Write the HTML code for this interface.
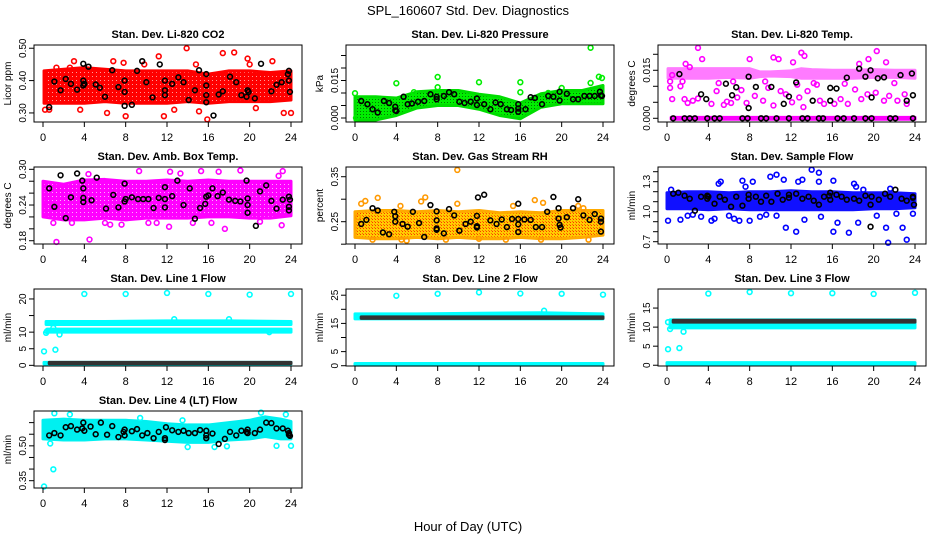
<!DOCTYPE html>
<html><head><meta charset="utf-8"><title>SPL_160607 Std. Dev. Diagnostics</title>
<style>
html,body{margin:0;padding:0;background:#fff;}
svg{display:block;font-family:"Liberation Sans",Arial,sans-serif;}
</style></head>
<body>
<svg id="chart" width="936" height="540" viewBox="0 0 936 540" xmlns="http://www.w3.org/2000/svg">
<defs>
<pattern id="dotsG" width="3" height="3" patternUnits="userSpaceOnUse"><rect width="3" height="3" fill="#00ee00"/><rect width="1" height="1" fill="#007700"/></pattern>
<pattern id="dotsRH" width="3" height="3" patternUnits="userSpaceOnUse"><rect width="3" height="3" fill="#ffcc00"/><rect width="1" height="1" fill="#ff3300"/><rect x="2" y="2" width="1" height="1" fill="#ff6600"/></pattern>
<pattern id="dotsM" width="4" height="4" patternUnits="userSpaceOnUse"><rect width="4" height="4" fill="#ff00ff"/><rect width="1" height="1" fill="#ffaaff"/></pattern>
<pattern id="dotsR" width="4" height="4" patternUnits="userSpaceOnUse"><rect width="4" height="4" fill="#ff0000"/><rect width="1" height="1" fill="#ff9999"/></pattern>
<pattern id="dotsK" width="4" height="4" patternUnits="userSpaceOnUse"><rect width="4" height="4" fill="#111"/><rect x="1" y="1" width="2" height="1" fill="#00cccc"/></pattern>
</defs>
<rect x="0" y="0" width="936" height="540" fill="#fff"/>
<text x="468" y="15" text-anchor="middle" font-size="13">SPL_160607  Std. Dev. Diagnostics</text>
<text x="468" y="531" text-anchor="middle" font-size="13">Hour of Day (UTC)</text>
<g id="panels"></g>
</svg>
<script>
// ---- data arrays (hour of day, std dev values) ----
const xTicks = [0,4,8,12,16,20,24];

// CO2
const co2BandHours = [0.1,2,4,6,8,10,12,14,16,18,20,22,24];
const co2BandLo = [0.33,0.33,0.33,0.335,0.33,0.33,0.33,0.335,0.33,0.335,0.335,0.335,0.34];
const co2BandHi = [0.43,0.435,0.44,0.435,0.43,0.43,0.43,0.43,0.42,0.43,0.43,0.425,0.43];
const co2Outliers = [[3.0,0.46],[6.8,0.46],[7.8,0.455],[11.2,0.475],[13.9,0.50],[17.4,0.485],[18.5,0.487],[19.8,0.468],[22.2,0.46],[3.6,0.31],[6.2,0.30],[8.0,0.29],[11.7,0.29],[12.7,0.31],[15.9,0.28],[15.1,0.305],[20.6,0.315],[23.3,0.30],[24.0,0.30],[0.2,0.31],[0.6,0.31],[1.3,0.44],[2.6,0.44],[9.8,0.45],[14.8,0.45],[20.0,0.45]];
const co2Black = [[0.6,0.318],[1.1,0.397],[1.7,0.37],[2.2,0.405],[2.7,0.39],[3.3,0.372],[3.9,0.452],[3.9,0.40],[3.9,0.385],[4.0,0.39],[4.4,0.443],[5.1,0.388],[5.5,0.378],[6.0,0.35],[6.7,0.432],[7.3,0.38],[7.9,0.40],[7.9,0.365],[7.9,0.322],[8.6,0.325],[9.1,0.43],[9.6,0.46],[10.0,0.395],[10.6,0.348],[11.3,0.45],[11.8,0.40],[11.8,0.37],[11.8,0.355],[12.5,0.39],[13.1,0.41],[13.6,0.395],[14.1,0.34],[14.7,0.37],[15.1,0.432],[15.8,0.42],[15.8,0.385],[15.8,0.355],[15.8,0.333],[16.5,0.292],[17.0,0.357],[17.4,0.367],[18.1,0.412],[18.7,0.395],[19.2,0.355],[19.7,0.35],[19.8,0.37],[19.9,0.365],[20.5,0.345],[21.1,0.452],[22.1,0.367],[22.6,0.387],[23.1,0.395],[23.7,0.42],[23.8,0.43],[23.8,0.40],[23.9,0.365]];

// Pressure
const presBandHours = [0,2,4,6,8,10,12,14,16,18,20,22,24];
const presBandLo = [-0.0008,-0.0008,0.001,0.004,0.005,0.005,0.0035,0.001,-0.0003,0.0043,0.0057,0.0057,0.0057];
const presBandHi = [0.0085,0.0085,0.008,0.0105,0.011,0.011,0.0095,0.0085,0.006,0.0097,0.011,0.011,0.013];
const presOutliers = [[0,0.0099],[0.1,0.0],[4.0,0.0139],[8.0,0.0164],[8.0,0.0123],[12.0,0.0143],[16.0,0.0143],[16.0,0.0103],[18.7,0.010],[20.0,0.012],[22.8,0.0281],[22.8,0.014],[23.6,0.0165],[23.9,0.016],[5.7,0.0103]];
const presBlack = [[0.6,0.0068],[1.2,0.0055],[1.7,0.0035],[2.2,0.0022],[2.8,0.0068],[3.3,0.006],[3.9,0.003],[3.9,0.0045],[4.0,0.0028],[4.7,0.0085],[5.1,0.0055],[5.5,0.0058],[6.1,0.0065],[6.7,0.0068],[7.3,0.0095],[7.9,0.0085],[7.9,0.0075],[8.6,0.0088],[9.1,0.0103],[9.6,0.0095],[10.1,0.0065],[10.6,0.006],[11.2,0.0065],[11.8,0.0078],[11.8,0.0052],[12.5,0.0055],[13.1,0.0035],[13.6,0.0062],[14.1,0.0055],[14.7,0.0035],[15.1,0.0032],[15.8,0.0055],[15.8,0.0038],[15.8,0.0025],[16.5,0.0035],[17.0,0.0083],[17.4,0.008],[18.1,0.0055],[18.7,0.0088],[19.2,0.0085],[19.8,0.0105],[19.8,0.007],[20.5,0.0097],[21.1,0.0075],[21.6,0.0075],[22.2,0.0088],[22.7,0.0088],[23.2,0.0088],[23.7,0.0105],[23.8,0.009],[23.9,0.0088]];

// Li-820 Temp
const tempBandHours = [0.1,2,4,6,8,9,10,12,13,14,16,18,20,22,24];
const tempBandLo = [0.0125,0.0125,0.0125,0.0128,0.0125,0.013,0.0132,0.013,0.0125,0.0125,0.0125,0.0125,0.0128,0.0128,0.0125];
const tempBandHi = [0.0155,0.0155,0.0155,0.0155,0.0155,0.0145,0.0145,0.0148,0.0155,0.0152,0.015,0.015,0.0152,0.015,0.015];
const tempZeroHours = [0.4,24];
const tempZeroLo = [-0.0003,-0.0003];
const tempZeroHi = [0.0003,0.0003];
const tempOutliers = [[3.0,0.022],[3.4,0.0185],[1.8,0.017],[2.2,0.016],[8.0,0.0185],[10.3,0.019],[10.8,0.0185],[12.2,0.0175],[13.0,0.0205],[13.3,0.0195],[18.6,0.017],[19.5,0.0185],[20.3,0.021],[21.2,0.0175],[0.3,0.0115],[0.3,0.0095],[0.5,0.006],[1.3,0.010],[1.7,0.006],[2.0,0.0048],[2.5,0.0055],[3.0,0.0062],[4.3,0.0045],[4.8,0.0085],[5.5,0.0042],[5.8,0.0052],[6.2,0.0048],[6.8,0.0065],[7.2,0.0088],[7.7,0.0048],[8.5,0.007],[9.3,0.0055],[9.8,0.0095],[10.3,0.004],[11.0,0.0085],[11.5,0.0075],[12.1,0.005],[12.8,0.0065],[13.2,0.0035],[13.6,0.0085],[14.5,0.0105],[14.8,0.0055],[15.2,0.0045],[16.2,0.0045],[16.8,0.006],[17.5,0.0045],[18.2,0.009],[18.8,0.006],[19.4,0.0075],[20.2,0.008],[21.0,0.0055],[21.5,0.007],[22.3,0.0055],[23.0,0.0075],[23.2,0.0045],[12.6,0.0105],[6.4,0.0115],[9.5,0.0115],[0.5,0.0135],[1.5,0.0115],[5.0,0.011],[14.2,0.011],[17.2,0.0108],[22.0,0.011]];
const tempBlack = [[1.2,0.0138],[3.3,0.0075],[3.8,0.006],[5.7,0.0108],[6.3,0.0072],[6.7,0.0097],[7.9,0.0032],[7.9,0.013],[8.6,0.0098],[10.1,0.0098],[11.3,0.0045],[11.8,0.0068],[12.5,0.0112],[14.1,0.0055],[15.8,0.0055],[15.8,0.0095],[16.4,0.0093],[17.4,0.0127],[18.6,0.0155],[19.2,0.013],[19.7,0.015],[19.8,0.0065],[20.4,0.0125],[21.0,0.0128],[22.6,0.0135],[23.2,0.0055],[23.7,0.014],[23.8,0.0072],[0.6,0],[1.7,0],[2.2,0],[2.7,0],[3.9,0],[4.6,0],[5.1,0],[7.3,0],[7.8,0],[9.1,0],[9.6,0],[10.6,0],[11.8,0],[13.1,0],[13.6,0],[14.7,0],[15.1,0],[16.5,0],[17.1,0],[18.1,0],[19.2,0],[19.8,0],[21.6,0],[22.1,0],[23.8,0]];

// Amb box temp
const ambBandHours = [0,2,4,6,8,10,12,14,16,18,20,22,24];
const ambBandLo = [0.22,0.215,0.215,0.218,0.215,0.218,0.218,0.218,0.22,0.22,0.218,0.218,0.222];
const ambBandHi = [0.28,0.275,0.282,0.283,0.28,0.28,0.282,0.28,0.282,0.28,0.28,0.28,0.28];
const ambOutliers = [[1.3,0.178],[4.5,0.182],[7.6,0.207],[12.2,0.2035],[17.6,0.20],[23.1,0.206],[4.4,0.292],[9.3,0.297],[15.3,0.297],[17.0,0.296],[19.1,0.298],[23.2,0.297],[12.3,0.296],[13.3,0.293],[6.0,0.21],[6.5,0.207],[10.2,0.21],[11.0,0.21],[14.5,0.21],[16.3,0.21],[21.0,0.212],[0.2,0.245],[22.8,0.289],[1.0,0.21],[2.8,0.21]];
const ambBlack = [[0.6,0.268],[1.1,0.237],[1.7,0.29],[2.2,0.218],[2.7,0.253],[3.3,0.293],[3.8,0.281],[3.9,0.268],[3.9,0.252],[3.9,0.245],[4.7,0.248],[5.2,0.286],[6.1,0.234],[6.8,0.257],[7.3,0.236],[7.9,0.246],[7.9,0.276],[8.0,0.25],[8.6,0.253],[9.2,0.25],[9.7,0.25],[10.2,0.25],[10.7,0.235],[11.2,0.252],[11.8,0.27],[11.8,0.25],[11.8,0.236],[12.5,0.255],[13.0,0.281],[13.6,0.24],[14.2,0.268],[14.7,0.217],[15.2,0.235],[15.7,0.242],[15.8,0.254],[16.0,0.256],[16.4,0.268],[16.9,0.255],[17.4,0.261],[18.0,0.249],[18.6,0.247],[19.1,0.246],[19.7,0.281],[19.8,0.251],[19.8,0.24],[19.8,0.227],[20.6,0.205],[21.0,0.263],[21.6,0.273],[22.1,0.247],[22.6,0.234],[23.2,0.249],[23.8,0.237],[23.8,0.231],[23.9,0.249],[23.8,0.254]];

// Gas stream RH
const rhBandHours = [0,2,4,6,8,10,12,14,16,18,20,22,24];
const rhBandLo = [0.215,0.212,0.212,0.215,0.212,0.215,0.212,0.212,0.215,0.212,0.212,0.215,0.22];
const rhBandHi = [0.272,0.275,0.275,0.272,0.275,0.272,0.275,0.27,0.272,0.27,0.275,0.275,0.275];
const rhOutliers = [[9.9,0.365],[1.0,0.296],[2.2,0.303],[0.6,0.29],[6.4,0.295],[6.8,0.304],[17.4,0.298],[18.2,0.292],[22.1,0.28],[9.9,0.29],[21.6,0.285],[15.3,0.285],[4.4,0.285],[1.7,0.21],[4.5,0.21],[14.6,0.21],[18.0,0.21],[22.6,0.21],[0.3,0.26],[5.0,0.208],[8.8,0.21],[12.0,0.212]];
const rhBlack = [[0.6,0.245],[1.1,0.254],[1.7,0.28],[2.2,0.275],[2.7,0.226],[3.3,0.222],[3.8,0.272],[3.9,0.25],[3.9,0.262],[4.6,0.245],[5.1,0.239],[5.6,0.272],[6.2,0.247],[6.7,0.216],[7.3,0.287],[7.9,0.273],[7.9,0.253],[7.9,0.235],[7.9,0.232],[8.6,0.224],[9.1,0.278],[9.6,0.264],[10.1,0.23],[10.7,0.245],[11.2,0.25],[11.8,0.263],[11.8,0.24],[11.8,0.237],[11.9,0.304],[12.5,0.31],[13.1,0.253],[13.7,0.245],[14.2,0.255],[14.7,0.238],[15.2,0.256],[15.8,0.29],[15.8,0.256],[15.8,0.244],[15.8,0.227],[16.4,0.255],[17.0,0.254],[17.5,0.238],[18.1,0.238],[18.6,0.272],[19.2,0.305],[19.7,0.28],[19.7,0.257],[19.8,0.243],[19.9,0.237],[20.5,0.26],[21.1,0.28],[21.6,0.30],[22.1,0.264],[22.7,0.254],[23.2,0.267],[23.8,0.257],[23.8,0.25],[23.8,0.228]];

// Sample flow
const flowBandHours = [0,2,4,6,8,10,12,14,16,18,20,22,24];
const flowBandLo = [1.03,1.03,1.02,1.03,1.02,1.02,1.02,1.02,1.02,1.02,1.03,1.03,1.04];
const flowBandHi = [1.19,1.2,1.2,1.19,1.2,1.2,1.21,1.2,1.2,1.19,1.19,1.19,1.18];
const flowOutliers = [[0.1,0.91],[0.4,1.22],[1.3,0.92],[2.0,0.96],[2.5,0.97],[3.3,0.95],[4.3,0.91],[4.6,0.93],[5.0,1.28],[5.2,1.30],[6.0,0.96],[6.5,0.93],[7.3,1.31],[7.0,0.91],[7.6,1.25],[8.0,0.91],[8.3,1.30],[9.0,0.95],[9.6,0.97],[10.0,1.35],[10.6,1.37],[10.6,0.96],[11.3,1.32],[11.5,0.84],[12.5,0.80],[12.7,1.30],[13.1,1.32],[13.3,0.92],[14.0,1.42],[14.7,1.39],[14.7,1.30],[14.9,0.95],[16.1,1.31],[16.1,0.80],[16.5,0.89],[17.6,0.79],[18.1,1.28],[18.5,0.89],[19.0,1.22],[20.3,0.96],[21.2,0.84],[21.4,0.69],[21.6,1.23],[22.2,0.98],[22.8,0.84],[23.2,0.72],[23.8,0.98],[18.3,1.25]];
const flowBlack = [[0.6,1.18],[1.1,1.19],[1.7,1.16],[2.2,1.13],[2.7,1.01],[3.3,1.15],[3.9,1.13],[3.9,1.16],[4.0,1.15],[4.6,1.08],[5.1,1.15],[5.6,1.12],[6.2,1.05],[6.7,1.15],[7.3,1.06],[7.9,1.17],[7.9,1.13],[8.6,1.15],[9.1,1.10],[9.6,1.16],[10.1,1.10],[10.7,1.18],[11.2,1.12],[11.8,1.17],[11.8,1.14],[12.5,1.18],[13.1,1.13],[13.7,1.15],[14.2,1.11],[14.7,1.07],[15.2,1.15],[15.7,1.16],[15.8,1.19],[15.8,1.12],[16.4,1.17],[16.9,1.15],[17.4,1.12],[18.1,1.13],[18.6,1.11],[19.2,1.16],[19.7,1.07],[19.8,1.15],[19.7,0.85],[20.5,1.12],[21.1,1.18],[21.6,1.15],[22.1,1.22],[22.7,1.13],[23.2,1.11],[23.8,1.15],[23.8,1.14],[23.9,1.07]];

// Line 1 flow
const l1HighHours = [0.3,6,12,18,24];
const l1HighLo = [12.3,12.3,12.3,12.3,12.3];
const l1HighHi = [13.2,13.2,13.4,13.4,13.2];
const l1MidHours = [0.4,6,12,18,24];
const l1MidLo = [10.0,10.0,10.0,10.0,10.0];
const l1MidHi = [10.9,10.9,10.9,10.9,10.9];
const l1ZeroHours = [0.1,24];
const l1ZeroLo = [0.4,0.4];
const l1ZeroHi = [0.9,0.9];
const l1BlackHours = [0.6,24];
const l1BlackLo = [0.5,0.5];
const l1BlackHi = [0.9,0.9];
const l1Outliers = [[4.0,21.5],[8.0,21.5],[12.0,21.8],[16.0,21.5],[20.0,21.3],[24.0,21.5],[0.1,4.2],[1.2,4.7],[0.3,9.8],[0.4,10.3],[1.6,9.3],[1.0,11.3],[12.7,13.9],[18.0,13.9],[21.9,10.0]];

// Line 2 flow
const l2BandHours = [0,6,12,18,24];
const l2BandLo = [16.6,16.6,16.6,16.6,16.6];
const l2BandHi = [18.4,18.4,18.6,18.8,18.4];
const l2ZeroHours = [0,24];
const l2ZeroLo = [0.2,0.2];
const l2ZeroHi = [0.8,0.8];
const l2BlackHours = [0.6,24];
const l2BlackLo = [16.8,16.8];
const l2BlackHi = [17.3,17.3];
const l2Outliers = [[4,24.8],[8,25.5],[12,26.0],[16,25.6],[20,25.5],[24,25.2],[18.3,19.5]];

// Line 3 flow
const l3BandHours = [0.3,6,12,18,24];
const l3BandLo = [9.8,9.8,9.8,9.8,9.8];
const l3BandHi = [11.9,11.9,11.9,11.9,11.9];
const l3ZeroHours = [0,24];
const l3ZeroLo = [0.2,0.2];
const l3ZeroHi = [0.7,0.7];
const l3BlackHours = [0.6,24];
const l3BlackLo = [11.3,11.3];
const l3BlackHi = [11.8,11.8];
const l3Outliers = [[4,18.8],[8,19.2],[12,18.9],[16,18.9],[20,18.7],[24,19.0],[0.1,4.2],[1.2,4.5],[1.6,8.8],[0.1,11.3],[0.3,9.5]];

// Line 4 flow
const l4BandHours = [0,2,4,6,8,10,12,14,16,18,20,21.5,23,24];
const l4BandLo = [0.53,0.525,0.525,0.53,0.53,0.525,0.52,0.515,0.515,0.525,0.53,0.54,0.53,0.53];
const l4BandHi = [0.61,0.615,0.61,0.61,0.61,0.605,0.595,0.59,0.59,0.6,0.61,0.625,0.615,0.605];
const l4Outliers = [[0.1,0.325],[1.0,0.399],[0.7,0.51],[24.0,0.50],[22.6,0.50],[16.6,0.495],[17.8,0.498],[14.0,0.495],[1.1,0.64],[2.6,0.635],[21.1,0.643],[23.5,0.635],[13.5,0.61],[9.4,0.62]];
const l4Black = [[0.6,0.545],[1.1,0.555],[1.7,0.545],[2.2,0.58],[2.7,0.585],[3.3,0.57],[3.8,0.575],[3.9,0.60],[4.0,0.565],[4.6,0.583],[5.1,0.55],[5.6,0.60],[6.2,0.548],[6.7,0.585],[7.3,0.538],[7.8,0.56],[7.9,0.545],[7.9,0.57],[8.6,0.563],[9.1,0.572],[9.6,0.545],[10.1,0.555],[10.7,0.533],[11.2,0.56],[11.8,0.533],[11.8,0.525],[11.9,0.58],[12.5,0.567],[13.1,0.56],[13.6,0.565],[14.1,0.555],[14.7,0.555],[15.2,0.568],[15.8,0.565],[15.8,0.545],[15.8,0.533],[16.4,0.553],[17.0,0.508],[17.6,0.53],[18.1,0.56],[18.7,0.545],[19.2,0.565],[19.7,0.56],[19.8,0.57],[19.8,0.555],[20.5,0.555],[21.0,0.57],[21.6,0.60],[22.1,0.598],[22.6,0.575],[23.2,0.575],[23.7,0.565],[23.8,0.555],[23.9,0.543],[23.8,0.548]];

// ---- panel configuration ----
const panels = [
 {id:'co2',title:'Stan. Dev. Li-820 CO2',ylab:'Licor ppm',col:0,row:0,ymin:0.272,ymax:0.510,ticks:[0.30,0.40,0.50],labels:['0.30','0.40','0.50'],color:'#ff0000',bands:[[co2BandHours,co2BandLo,co2BandHi,'url(#dotsR)','#ff0000',1]],out:co2Outliers,black:co2Black},
 {id:'pressure',title:'Stan. Dev. Li-820 Pressure',ylab:'kPa',col:1,row:0,ymin:-0.0016,ymax:0.0292,ticks:[0,0.005,0.01,0.015,0.02,0.025],labels:['0.000','','','0.015','',''],color:'#00ee00',bands:[[presBandHours,presBandLo,presBandHi,'url(#dotsG)','#00dd00',1]],out:presOutliers,black:presBlack},
 {id:'temp',title:'Stan. Dev. Li-820 Temp.',ylab:'degrees C',col:2,row:0,ymin:-0.00116,ymax:0.0229,ticks:[0,0.005,0.01,0.015,0.02],labels:['0.000','','','0.015',''],color:'#ff00ff',bands:[[tempBandHours,tempBandLo,tempBandHi,'#ff44ff','#ff44ff',0.7],[tempZeroHours,tempZeroLo,tempZeroHi,'#ff00ff','#ff00ff',1]],out:tempOutliers,black:tempBlack},
 {id:'ambbox',title:'Stan. Dev. Amb. Box Temp.',ylab:'degrees C',col:0,row:1,ymin:0.1745,ymax:0.3039,ticks:[0.18,0.20,0.22,0.24,0.26,0.28,0.30],labels:['0.18','','','0.24','','','0.30'],color:'#ff00ff',bands:[[ambBandHours,ambBandLo,ambBandHi,'url(#dotsM)','#ff00ff',1]],out:ambOutliers,black:ambBlack},
 {id:'rh',title:'Stan. Dev. Gas Stream RH',ylab:'percent',col:1,row:1,ymin:0.2004,ymax:0.3716,ticks:[0.20,0.25,0.30,0.35],labels:['','0.25','','0.35'],color:'#ff9900',bands:[[rhBandHours,rhBandLo,rhBandHi,'url(#dotsRH)','#ffaa00',1]],out:rhOutliers,black:rhBlack},
 {id:'sampleflow',title:'Stan. Dev. Sample Flow',ylab:'ml/min',col:2,row:1,ymin:0.677,ymax:1.447,ticks:[0.7,0.8,0.9,1.0,1.1,1.2,1.3,1.4],labels:['0.7','','','1.0','','','1.3',''],color:'#0000ff',bands:[[flowBandHours,flowBandLo,flowBandHi,'#1010ff','#1010ff',1]],out:flowOutliers,black:flowBlack},
 {id:'line1',title:'Stan. Dev. Line 1 Flow',ylab:'ml/min',col:0,row:2,ymin:-0.2,ymax:23.0,ticks:[0,5,10,15,20],labels:['0','5','10','','20'],color:'#00ffff',bands:[[l1HighHours,l1HighLo,l1HighHi,'#00ffff','#00ffff',1],[l1MidHours,l1MidLo,l1MidHi,'#00ffff','#00ffff',1],[l1ZeroHours,l1ZeroLo,l1ZeroHi,'#00ffff','#00ffff',1],[l1BlackHours,l1BlackLo,l1BlackHi,'url(#dotsK)','#333',1]],out:l1Outliers,black:[]},
 {id:'line2',title:'Stan. Dev. Line 2 Flow',ylab:'ml/min',col:1,row:2,ymin:-0.1,ymax:27.2,ticks:[0,5,10,15,20,25],labels:['0','5','','15','','25'],color:'#00ffff',bands:[[l2BandHours,l2BandLo,l2BandHi,'#00ffff','#00ffff',1],[l2ZeroHours,l2ZeroLo,l2ZeroHi,'#00ffff','#00ffff',1],[l2BlackHours,l2BlackLo,l2BlackHi,'url(#dotsK)','#333',1]],out:l2Outliers,black:[]},
 {id:'line3',title:'Stan. Dev. Line 3 Flow',ylab:'ml/min',col:2,row:2,ymin:-0.2,ymax:20.0,ticks:[0,5,10,15],labels:['0','5','10','15'],color:'#00ffff',bands:[[l3BandHours,l3BandLo,l3BandHi,'#00ffff','#00ffff',1],[l3ZeroHours,l3ZeroLo,l3ZeroHi,'#00ffff','#00ffff',1],[l3BlackHours,l3BlackLo,l3BlackHi,'url(#dotsK)','#333',1]],out:l3Outliers,black:[]},
 {id:'line4',title:'Stan. Dev. Line 4 (LT) Flow',ylab:'ml/min',col:0,row:3,ymin:0.3185,ymax:0.650,ticks:[0.35,0.40,0.45,0.50,0.55,0.60],labels:['0.35','','','0.50','',''],color:'#00ffff',bands:[[l4BandHours,l4BandLo,l4BandHi,'#00f0f0','#00f0f0',1]],out:l4Outliers,black:l4Black}
];

const NS='http://www.w3.org/2000/svg';
const root=document.getElementById('panels');
function mk(tag,attrs,parent){const e=document.createElementNS(NS,tag);for(const k in attrs)e.setAttribute(k,attrs[k]);parent.appendChild(e);return e;}

panels.forEach(p=>{
  const L=34+p.col*312, T=45+p.row*122, W=268, H=77;
  const sx=h=>L+9+h/24*248;
  const sy=v=>T+(p.ymax-v)/(p.ymax-p.ymin)*H;
  const g=mk('g',{},root);
  
  
  const t=mk('text',{x:L+W/2,y:T-7,'text-anchor':'middle','font-size':'11','font-weight':'bold'},g);
  t.textContent=p.title;
  
  
  const yl=mk('text',{x:0,y:0,'text-anchor':'middle','font-size':'10',transform:`translate(${L-23},${T+H/2}) rotate(-90)`},g);
  yl.textContent=p.ylab;
  
  
  const plot=mk('g',{},g);
  
  
  p.bands.forEach(b=>{
    const [hs,lo,hi,fill,stroke,op]=b;
    const pts=[];
    hs.forEach((h,i)=>pts.push(sx(h)+','+sy(hi[i])));
    for(let i=hs.length-1;i>=0;i--)pts.push(sx(hs[i])+','+sy(lo[i]));
    const poly=mk('polygon',{points:pts.join(' '),fill:fill,stroke:stroke,'stroke-width':3,'stroke-linejoin':'round',opacity:op},plot);
    
    
  });
  p.out.forEach(d=>{
    const c=mk('circle',{cx:sx(d[0]),cy:sy(d[1]),r:2.4,fill:'none',stroke:p.color,'stroke-width':1.6},plot);
    
    
  });
  p.black.forEach(d=>{
    const c=mk('circle',{cx:sx(d[0]),cy:sy(d[1]),r:2.4,fill:'none',stroke:'#000','stroke-width':1.6},plot);
    
    
  });
  const fr=mk('rect',{x:L,y:T,width:W,height:H,fill:'none',stroke:'#000','stroke-width':1},g);
  
  
  const xa=mk('g',{},g);
  
  
  xTicks.forEach(h=>{
    mk('line',{x1:sx(h),x2:sx(h),y1:T+H,y2:T+H+5,stroke:'#000'},xa);
    const tl=mk('text',{x:sx(h),y:T+H+19,'text-anchor':'middle','font-size':'11'},xa);
    tl.textContent=h;
    
    
  });
  const ya=mk('g',{},g);
  
  
  p.ticks.forEach((v,i)=>{
    mk('line',{x1:L-5,x2:L,y1:sy(v),y2:sy(v),stroke:'#000'},ya);
    if(p.labels[i]){
      const tl=mk('text',{x:0,y:0,'text-anchor':'middle','font-size':'10',transform:`translate(${L-8},${sy(v)}) rotate(-90)`},ya);
      tl.textContent=p.labels[i];
      
      
    }
  });
});
</script>
</body></html>
